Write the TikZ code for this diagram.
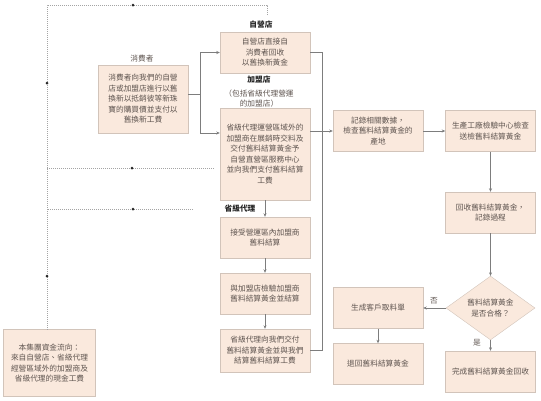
\documentclass[tikz,border=0pt]{standalone}
\usepackage{fontspec}
\setmainfont{Noto Sans CJK TC}
\usetikzlibrary{arrows.meta,positioning,shapes.geometric}
\definecolor{melocoton}{RGB}{250,233,221}
\definecolor{borde}{RGB}{210,196,186}
\definecolor{linea}{RGB}{125,125,125}
\definecolor{texto}{RGB}{95,85,80}
\tikzset{
  paso/.style={draw=borde, fill=melocoton, align=center, minimum width=90pt, minimum height=41pt, inner sep=2pt, font=\fontsize{7.7}{10.5}\selectfont, text=texto},
  rombo/.style={draw=borde, fill=melocoton, diamond, align=center, minimum width=89pt, minimum height=56pt, inner sep=0pt, font=\fontsize{7.7}{10.5}\selectfont, text=texto},
  fl/.style={-{Stealth[length=3.5pt,width=3pt]}, line width=0.6pt, linea},
  ln/.style={line width=0.6pt, linea},
  punt/.style={line width=0.7pt, linea!70, dash pattern=on 0.6pt off 1.4pt},
  gota/.style={fill=black!85},
  et/.style={font=\fontsize{7.7}{10}\selectfont, text=texto, align=center},
  etb/.style={font=\bfseries\fontsize{7.7}{10}\selectfont, text=black!85, align=center},
}

\begin{document}
\begin{tikzpicture}[x=1pt,y=-1pt]
  \useasboundingbox (0,0) rectangle (541,400);
  % columna de tiendas
  \node[et] (lcons) at (142,59) {消費者};
  \node[paso, minimum height=68pt] (cons) at (143,99) {消費者向我們的自營\\店或加盟店進行以舊\\換新以抵銷彼等新珠\\寶的購買價並支付以\\舊換新工費};
  \node[etb] (lauto) at (261,25) {自營店};
  \node[paso] (auto) at (265,52.5) {自營店直接自\\消費者回收\\以舊換新黃金};
  \node[etb] (lfran) at (259,80) {加盟店};
  \node[et, below=-1pt of lfran] (pfran) {（包括省級代理營運\\的加盟店）};
  \node[paso, minimum height=92pt] (fran) at (265,154) {省級代理運營區域外的\\加盟商在展銷時交料及\\交付舊料結算黃金予\\自營直營區服務中心\\並向我們支付舊料結算\\工費};
  \node[etb] (lprov) at (240,209) {省級代理};
  \node[paso] (acep) at (265,237.5) {接受營運區內加盟商\\舊料結算};
  \node[paso] (verif) at (265,293.5) {與加盟店檢驗加盟商\\舊料結算黃金並結算};
  \node[paso, minimum height=43pt] (prov) at (265,350.5) {省級代理向我們交付\\舊料結算黃金並與我們\\結算舊料結算工費};
  \node[paso, minimum width=92pt, minimum height=67pt] (grupo) at (49.5,363) {本集團資金流向：\\來自自營店、省級代理\\經營區域外的加盟商及\\省級代理的現金工費};
  % columna de control
  \node[paso] (reg) at (378,131) {記錄相關數據，\\檢查舊料結算黃金的\\產地};
  \node[paso] (prod) at (490.5,131) {生產工廠檢驗中心檢查\\送檢舊料結算黃金};
  \node[paso] (recu) at (490.5,212.5) {回收舊料結算黃金，\\記錄過程};
  \node[rombo] (dec) at (490.5,308) {舊料結算黃金\\是否合格？};
  \node[paso] (gen) at (378,308) {生成客戶取料單};
  \node[paso] (dev) at (378,364) {退回舊料結算黃金};
  \node[paso] (fin) at (490.5,371.5) {完成舊料結算黃金回收};
  \node[et] (no) at (434,301) {否};
  \node[et] (si) at (477,343) {是};

  \coordinate (rama) at (200,94);
  \draw[ln] ([yshift=5pt]cons.east) -- (rama);
  \draw[fl] (rama) |- (auto.west);
  \draw[fl] (rama) |- ([yshift=21pt]fran.west);
  \draw[fl] (fran) -- (acep);
  \draw[fl] (acep) -- (verif);
  \draw[fl] (verif) -- (prov);
  \draw[ln] (auto.east) -| ([xshift=12pt]prov.east) -- (prov.east);
  \draw[fl] ([yshift=23pt]fran.east) -- (reg.west);
  \draw[fl] (reg) -- (prod);
  \draw[fl] (prod) -- (recu);
  \draw[fl] (recu) -- (dec);
  \draw[fl] (dec) -- (gen);
  \draw[fl] (gen) -- (dev);
  \draw[fl] (dec) -- (fin);

  % flujo de dinero
  \coordinate (salida) at (267,15);
  \coordinate (esq) at (47,5);
  \coordinate (fw) at ([yshift=-14pt]fran.west);
  \draw[punt] (salida) |- (esq) -- (esq |- grupo.north);
  \draw[punt] ([xshift=-6pt]fw) -- (esq |- fw);
  \draw[punt] ([xshift=-28pt]lprov.west) -- (esq |- lprov.west);
  \foreach \p in {(133,5),(132,168),(133,209),(47,83),(47,276)}
    \fill[gota] \p circle (1.5pt);
\end{tikzpicture}
\end{document}
